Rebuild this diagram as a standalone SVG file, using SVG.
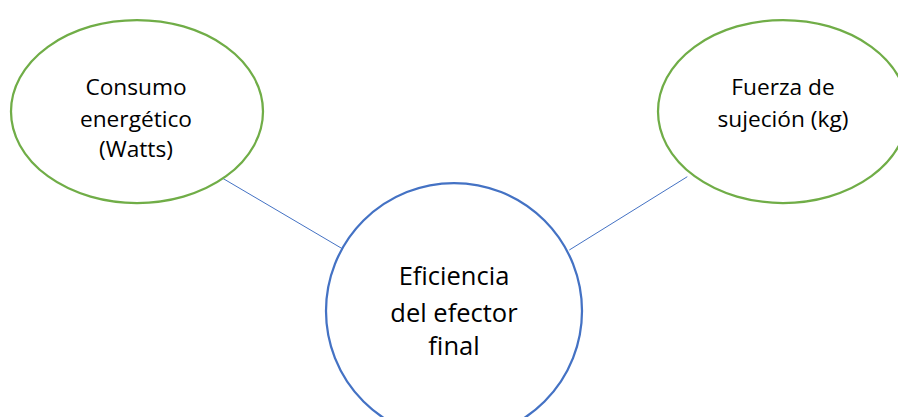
<svg xmlns="http://www.w3.org/2000/svg" width="898" height="417" viewBox="0 0 898 417">
<style>
.bg{fill:#ffffff}
.g{fill:#ffffff;stroke:#70AD47;stroke-width:2.25}
.b{fill:#ffffff;stroke:#4472C4;stroke-width:2.25}
.c{stroke:#4472C4;stroke-width:1;fill:none}
text{font-family:"Open Sans","Noto Sans","DejaVu Sans",sans-serif;font-size:22.7px;fill:#000000;text-anchor:middle}
text.big{font-size:25.5px}
</style>
<rect class="bg" x="0" y="0" width="898" height="417"/>
<g id="connectors">
<line class="c" x1="222.7" y1="178.3" x2="343.3" y2="249.3"/>
<line class="c" x1="687.3" y1="176.7" x2="569.3" y2="250"/>
</g>
<g id="consumo">
<ellipse class="g" cx="137" cy="111.5" rx="126" ry="91.5"/>
<text x="136" y="95">Consumo</text>
<text x="136" y="126.5">energético</text>
<text x="136" y="156.5">(Watts)</text>
</g>
<g id="fuerza">
<ellipse class="g" cx="783" cy="111.5" rx="125" ry="91.5"/>
<text x="783" y="95">Fuerza de</text>
<text x="783" y="126.5">sujeción (kg)</text>
</g>
<g id="eficiencia">
<circle class="b" cx="454" cy="311" r="128"/>
<text class="big" x="454" y="285">Eficiencia</text>
<text class="big" x="454" y="321.5">del efector</text>
<text class="big" x="454" y="355">final</text>
</g>
</svg>
